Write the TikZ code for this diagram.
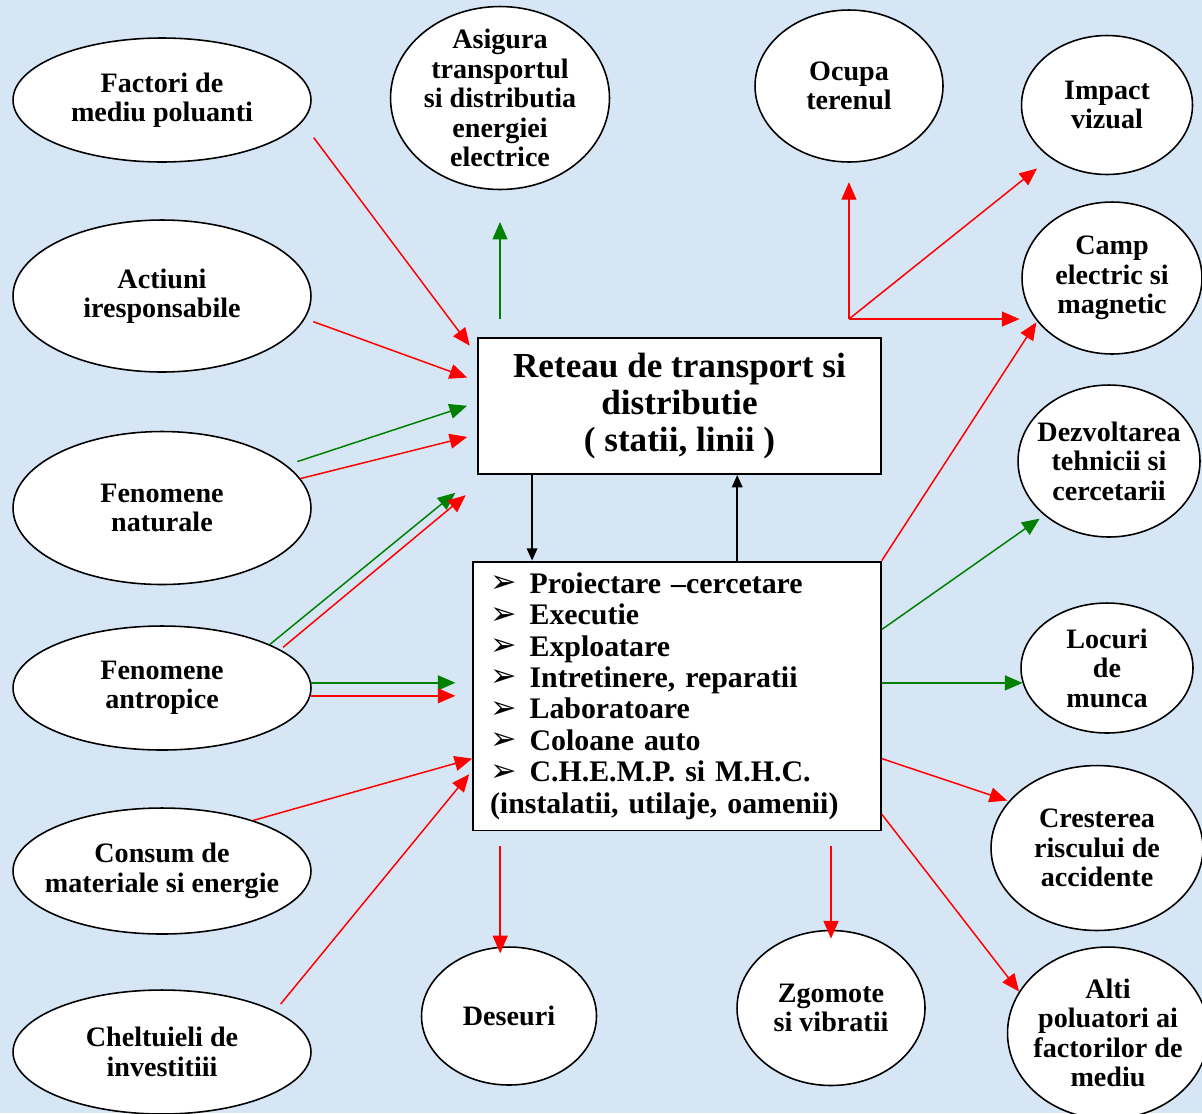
\documentclass[tikz,border=0pt]{standalone}
\usepackage{fontspec}
\setmainfont{Liberation Serif}
\newfontfamily\dejavu{DejaVu Sans}
\usetikzlibrary{calc,shapes.geometric,arrows.meta}
\definecolor{diagBg}{RGB}{215,230,245}
\definecolor{arrRed}{RGB}{255,0,0}
\definecolor{arrGreen}{RGB}{0,128,0}
\newcommand{\listMark}{\makebox[22.5pt][l]{\smash{\raisebox{0.3pt}{\dejavu\fontsize{18}{17}\selectfont ➢}}}}

\tikzset{
  bubble/.style={ellipse, draw=black, line width=0.9pt, fill=white, align=center,
    inner xsep=-8pt, inner ysep=-6pt, font={\fontsize{16}{16.8}\selectfont\bfseries}},
  mainBox/.style={rectangle, draw=black, line width=1.1pt, fill=white, align=center,
    minimum width=8.06cm, minimum height=2.72cm, font={\fontsize{20}{21}\selectfont\bfseries}},
  listBox/.style={rectangle, draw=black, line width=1.1pt, fill=white, align=left,
    text width=7.48cm, inner xsep=9.6pt, minimum height=5.38cm,
    font={\fontsize{17}{17.9}\selectfont\bfseries}},
  redArr/.style={draw=arrRed, line width=0.85pt, -{Triangle[length=10pt,width=8.5pt]}},
  greenArr/.style={draw=arrGreen, line width=0.85pt, -{Triangle[length=10pt,width=8.5pt]}},
  blackArr/.style={draw=black, line width=1pt, -{Triangle[length=7pt,width=6pt]}}
}

\begin{document}
\begin{tikzpicture}[x=0.02cm, y=-0.02cm]

\def\leftW{5.96cm}

% --- PAGE + BACKGROUND ---
\useasboundingbox (0,0) rectangle (1202,1113);
\fill[diagBg] (0,0) rectangle (1202,1113);

% --- LEFT COLUMN (inputs) ---
\node[bubble, minimum width=\leftW, minimum height=2.48cm] (factori) at (162,100) {Factori de\\mediu poluanti};
\node[bubble, minimum width=\leftW, minimum height=3.04cm] (actiuni) at (162,296) {Actiuni\\iresponsabile};
\node[bubble, minimum width=\leftW, minimum height=3.06cm] (fenNat) at (162,508) {Fenomene\\naturale};
\node[bubble, minimum width=\leftW, minimum height=2.48cm] (fenAntr) at (162,688) {Fenomene\\antropice};
\node[bubble, minimum width=\leftW, minimum height=2.52cm] (consum) at (162,871) {Consum de\\materiale si energie};
\node[bubble, minimum width=\leftW, minimum height=2.48cm] (cheltuieli) at (162,1052) {Cheltuieli de\\investitiii};

% --- TOP + RIGHT + BOTTOM (outputs) ---
\node[bubble, minimum width=4.38cm, minimum height=3.66cm] (asigura) at (500,98) {Asigura\\transportul\\si distributia\\energiei\\electrice};
\node[bubble, minimum width=3.76cm, minimum height=3.04cm] (ocupa) at (849,86) {Ocupa\\terenul};
\node[bubble, minimum width=3.42cm, minimum height=2.78cm] (impact) at (1107,105) {Impact\\vizual};
\node[bubble, minimum width=3.6cm, minimum height=3.04cm] (camp) at (1112,278) {Camp\\electric si\\magnetic};
\node[bubble, minimum width=3.64cm, minimum height=3.04cm] (dezvoltare) at (1109,461) {Dezvoltarea\\tehnicii si\\cercetarii};
\node[bubble, minimum width=3.44cm, minimum height=2.6cm] (locuri) at (1107,668) {Locuri\\de\\munca};
\node[bubble, minimum width=4.24cm, minimum height=3.3cm] (risc) at (1097,848) {Cresterea\\riscului de\\accidente};
\node[bubble, minimum width=4.02cm, minimum height=3.44cm] (alti) at (1108,1033) {Alti\\poluatori ai\\factorilor de\\mediu};
\node[bubble, minimum width=3.5cm, minimum height=2.76cm] (deseuri) at (509,1016) {Deseuri};
\node[bubble, minimum width=3.76cm, minimum height=3.1cm] (zgomote) at (831,1008) {Zgomote\\si vibratii};

% --- CENTRAL BOXES ---
\node[mainBox] (retea) at (679.5,406) {Reteau de transport si\\distributie\\( statii, linii )};
\node[listBox] (activ) at (677,696) {\listMark Proiectare –cercetare\\ \listMark Executie\\ \listMark Exploatare\\
  \listMark Intretinere, reparatii\\ \listMark Laboratoare\\ \listMark Coloane auto\\
  \listMark C.H.E.M.P. si M.H.C.\\(instalatii, utilaje, oamenii)};

% free ends
\coordinate (hub) at ($(retea.north east)+(-33,-18)$);
\coordinate (downFoot) at ($(retea.south west)+(55,0)$);
\coordinate (upFoot) at ($(activ.north west)+(265,0)$);
\coordinate (wasteTop) at ($(activ.south west)+(28,15)$);
\coordinate (noiseTop) at ($(activ.south)+(154,15)$);

% --- ARROWS INTO THE NETWORK ---
\draw[redArr, shorten <=11pt, shorten >=7pt] (factori.-9) -- (retea.166);
\draw[redArr, shorten <=5pt, shorten >=6pt] (actiuni.-9) -- (retea.173);
\draw[greenArr, shorten <=6.5pt, shorten >=6pt] (fenNat.19) -- (retea.179);
\draw[redArr, shorten >=5.8pt] (fenNat.12) -- (retea.188);
\draw[greenArr, shorten >=16pt] (fenAntr.22) -- (retea.south west);
\draw[redArr, shorten <=2pt, shorten >=18pt] (fenAntr.18) -- (retea.200);
\draw[greenArr, shorten >=9.6pt] (fenAntr.2) -- (fenAntr.2 -| activ.west);
\draw[redArr, shorten >=9.6pt] (fenAntr.-3) -- (fenAntr.-3 -| activ.west);
\draw[redArr] (consum.29) -- (activ.197);
\draw[redArr, shorten <=5pt, shorten >=2.7pt] (cheltuieli.20) -- (activ.200);

% --- BETWEEN THE BOXES ---
\draw[blackArr] (downFoot) -- (downFoot |- activ.north);
\draw[blackArr] (upFoot) -- (upFoot |- retea.south);

% --- ARROWS OUT ---
\draw[greenArr, shorten <=10pt, shorten >=18pt] (asigura.south |- retea.north) -- (asigura.south);
\draw[redArr, shorten >=11pt] (hub) -- (hub |- ocupa.south);
\draw[redArr, shorten >=9.6pt] (hub) -- (impact.223);
\draw[redArr, shorten >=1pt] (hub) -- (hub -| camp.west);
\draw[redArr, shorten >=0.7pt] (activ.north east) -- (camp.210);
\draw[greenArr, shorten >=3.2pt] (activ.18) -- (dezvoltare.220);
\draw[greenArr] (locuri.190 -| activ.east) -- (locuri.190);
\draw[redArr, shorten >=1pt] (activ.-17) -- (risc.152);
\draw[redArr] (activ.-30) -- (alti.155);
\draw[redArr, shorten >=-4pt] (wasteTop) -- (wasteTop |- deseuri.north);
\draw[redArr, shorten >=-5pt] (noiseTop) -- (noiseTop |- zgomote.north);

\end{tikzpicture}
\end{document}
